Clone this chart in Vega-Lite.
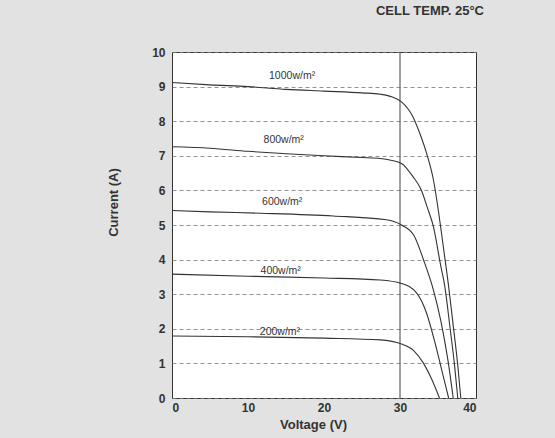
{
  "$schema": "https://vega.github.io/schema/vega-lite/v6.json",
  "width": 304,
  "height": 346,
  "autosize": {"type": "none"},
  "padding": {"left": 172, "top": 52, "right": 79, "bottom": 40},
  "background": "#e2e2e2",
  "config": {
    "font": "Liberation Sans",
    "view": {"fill": "#ffffff", "stroke": "#333333", "strokeWidth": 1}
  },
  "title": {
    "text": "CELL TEMP. 25°C",
    "anchor": "end",
    "fontSize": 13,
    "fontWeight": "bold",
    "color": "#333333",
    "dx": 8,
    "offset": 28
  },
  "datasets": {
    "curves": [
      {"g": "1000", "v": 0, "i": 9.12}, {"g": "1000", "v": 5, "i": 9.05}, {"g": "1000", "v": 10, "i": 9.0}, {"g": "1000", "v": 15, "i": 8.92}, {"g": "1000", "v": 20, "i": 8.87}, {"g": "1000", "v": 25, "i": 8.82}, {"g": "1000", "v": 27.4, "i": 8.78}, {"g": "1000", "v": 29, "i": 8.7}, {"g": "1000", "v": 30.2, "i": 8.56}, {"g": "1000", "v": 31.7, "i": 8.13}, {"g": "1000", "v": 32.6, "i": 7.65}, {"g": "1000", "v": 33.5, "i": 7.07}, {"g": "1000", "v": 34.4, "i": 6.3}, {"g": "1000", "v": 35.1, "i": 5.34}, {"g": "1000", "v": 35.7, "i": 4.37}, {"g": "1000", "v": 36.4, "i": 3.22}, {"g": "1000", "v": 37.0, "i": 2.1}, {"g": "1000", "v": 37.6, "i": 0.95}, {"g": "1000", "v": 38.0, "i": 0},
      {"g": "800", "v": 0, "i": 7.26}, {"g": "800", "v": 5, "i": 7.22}, {"g": "800", "v": 10, "i": 7.13}, {"g": "800", "v": 15, "i": 7.06}, {"g": "800", "v": 20, "i": 7.0}, {"g": "800", "v": 25, "i": 6.95}, {"g": "800", "v": 27.4, "i": 6.92}, {"g": "800", "v": 28.8, "i": 6.87}, {"g": "800", "v": 30.2, "i": 6.78}, {"g": "800", "v": 31.7, "i": 6.4}, {"g": "800", "v": 32.8, "i": 6.01}, {"g": "800", "v": 33.6, "i": 5.5}, {"g": "800", "v": 34.4, "i": 4.95}, {"g": "800", "v": 35.3, "i": 3.89}, {"g": "800", "v": 35.9, "i": 3.22}, {"g": "800", "v": 36.6, "i": 2.0}, {"g": "800", "v": 37.2, "i": 0.9}, {"g": "800", "v": 37.6, "i": 0},
      {"g": "600", "v": 0, "i": 5.42}, {"g": "600", "v": 5, "i": 5.38}, {"g": "600", "v": 11.6, "i": 5.34}, {"g": "600", "v": 21.2, "i": 5.26}, {"g": "600", "v": 28.2, "i": 5.15}, {"g": "600", "v": 30.2, "i": 5.0}, {"g": "600", "v": 31.8, "i": 4.71}, {"g": "600", "v": 33.1, "i": 3.99}, {"g": "600", "v": 34.4, "i": 3.12}, {"g": "600", "v": 35.4, "i": 2.2}, {"g": "600", "v": 36.3, "i": 1.1}, {"g": "600", "v": 37.0, "i": 0},
      {"g": "400", "v": 0, "i": 3.58}, {"g": "400", "v": 10, "i": 3.52}, {"g": "400", "v": 20, "i": 3.47}, {"g": "400", "v": 27.4, "i": 3.41}, {"g": "400", "v": 30.2, "i": 3.31}, {"g": "400", "v": 32.2, "i": 3.03}, {"g": "400", "v": 33.5, "i": 2.45}, {"g": "400", "v": 34.6, "i": 1.6}, {"g": "400", "v": 35.5, "i": 0.8}, {"g": "400", "v": 36.4, "i": 0},
      {"g": "200", "v": 0, "i": 1.79}, {"g": "200", "v": 10, "i": 1.77}, {"g": "200", "v": 20, "i": 1.73}, {"g": "200", "v": 27.4, "i": 1.68}, {"g": "200", "v": 30.2, "i": 1.56}, {"g": "200", "v": 31.8, "i": 1.37}, {"g": "200", "v": 33.1, "i": 1.0}, {"g": "200", "v": 34.1, "i": 0.58}, {"g": "200", "v": 35.2, "i": 0}
    ],
    "labels": [
      {"t": "1000w/m²", "v": 15.8, "i": 9.3},
      {"t": "800w/m²", "v": 14.7, "i": 7.45},
      {"t": "600w/m²", "v": 14.5, "i": 5.66},
      {"t": "400w/m²", "v": 14.3, "i": 3.68},
      {"t": "200w/m²", "v": 14.2, "i": 1.92}
    ],
    "vline": [{"v": 30}]
  },
  "encoding": {
    "x": {
      "field": "v", "type": "quantitative",
      "scale": {"domain": [0, 40], "nice": false},
      "axis": {
        "title": "Voltage (V)", "values": [0, 10, 20, 30, 40], "grid": false,
        "ticks": false, "domain": false, "labelPadding": 4, "labelDx": -4, "labelOverlap": false,
        "labelFontSize": 12, "labelFontWeight": "bold", "labelColor": "#333333",
        "titleFontSize": 13, "titleFontWeight": "bold", "titleColor": "#333333", "titlePadding": 5, "titleX": 141
      }
    }
  },
  "layer": [
    {
      "data": {"name": "vline"},
      "mark": {"type": "rule", "color": "#444444", "strokeWidth": 1}
    },
    {
      "data": {"name": "curves"},
      "mark": {"type": "line", "color": "#333333", "strokeWidth": 1.1, "interpolate": "monotone"},
      "encoding": {
        "y": {
          "field": "i", "type": "quantitative",
          "scale": {"domain": [0, 10], "nice": false},
          "axis": {
            "title": "Current (A)", "values": [0, 1, 2, 3, 4, 5, 6, 7, 8, 9, 10], "labelOverlap": false,
            "grid": true, "gridColor": "#777777", "gridDash": [4, 3], "gridWidth": 0.8,
            "ticks": false, "domain": false, "labelPadding": 7,
            "labelFontSize": 12, "labelFontWeight": "bold", "labelColor": "#333333",
            "titleFontSize": 13, "titleFontWeight": "bold", "titleColor": "#333333", "titlePadding": 31, "titleY": 150
          }
        },
        "detail": {"field": "g", "type": "nominal"}
      }
    },
    {
      "data": {"name": "labels"},
      "mark": {"type": "text", "fontSize": 10.5, "color": "#333333", "baseline": "middle", "align": "center"},
      "encoding": {
        "y": {
          "field": "i", "type": "quantitative",
          "scale": {"domain": [0, 10], "nice": false},
          "axis": {
            "title": "Current (A)", "values": [0, 1, 2, 3, 4, 5, 6, 7, 8, 9, 10], "labelOverlap": false,
            "grid": true, "gridColor": "#777777", "gridDash": [4, 3], "gridWidth": 0.8,
            "ticks": false, "domain": false, "labelPadding": 7,
            "labelFontSize": 12, "labelFontWeight": "bold", "labelColor": "#333333",
            "titleFontSize": 13, "titleFontWeight": "bold", "titleColor": "#333333", "titlePadding": 31, "titleY": 150
          }
        },
        "text": {"field": "t"}
      }
    }
  ]
}
